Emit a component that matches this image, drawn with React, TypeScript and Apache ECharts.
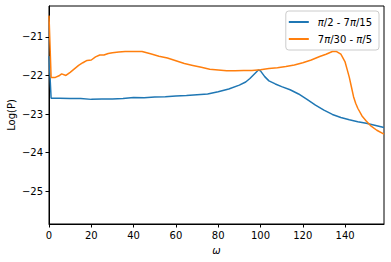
import React, { useEffect, useRef } from "react";
import * as echarts from "echarts";

const blueOmega = [0, 1, 5, 10, 15, 20, 25, 30, 35, 40, 45, 50, 55, 60, 65, 70, 75, 80, 85, 90, 93, 95, 97, 99, 100, 102, 104, 107, 110, 114, 118, 122, 126, 130, 134, 138, 142, 146, 150, 154, 158.4];
const blueValues = [-21.5, -22.59, -22.59, -22.6, -22.6, -22.62, -22.61, -22.61, -22.6, -22.57, -22.58, -22.56, -22.55, -22.53, -22.52, -22.5, -22.48, -22.42, -22.35, -22.25, -22.17, -22.08, -21.97, -21.86, -21.88, -22.03, -22.14, -22.22, -22.29, -22.37, -22.48, -22.62, -22.77, -22.9, -23.01, -23.09, -23.15, -23.2, -23.24, -23.29, -23.35];

const orangeOmega = [0, 1, 3, 5, 6, 8, 10, 12, 14, 16, 18, 20, 22, 24, 26, 28, 30, 33, 36, 40, 44, 48, 52, 56, 60, 64, 68, 72, 76, 80, 84, 88, 92, 96, 100, 104, 108, 112, 116, 120, 124, 128, 131, 134, 136, 138, 140, 141, 142, 143, 144, 145, 146, 148, 150, 152, 155, 158.4];
const orangeValues = [-20.45, -22.05, -22.05, -22.0, -21.96, -22.0, -21.92, -21.83, -21.74, -21.67, -21.61, -21.6, -21.52, -21.47, -21.47, -21.43, -21.41, -21.39, -21.38, -21.38, -21.38, -21.44, -21.5, -21.55, -21.62, -21.69, -21.74, -21.79, -21.84, -21.86, -21.88, -21.88, -21.87, -21.87, -21.85, -21.82, -21.8, -21.77, -21.73, -21.67, -21.6, -21.51, -21.45, -21.38, -21.38, -21.45, -21.65, -21.85, -22.05, -22.3, -22.55, -22.72, -22.85, -23.05, -23.18, -23.3, -23.42, -23.52];

const seriesNames = ["π/2 - 7π/15", "7π/30 - π/5"];
const legendLabels = ["{i|π}/2 - 7{i|π}/15", "7{i|π}/30 - {i|π}/5"];

const font = "DejaVu Sans";

export default function App() {
  const ref = useRef<HTMLDivElement>(null);
  useEffect(() => {
    if (!ref.current) return;
    const chart = echarts.init(ref.current, null, { renderer: "svg" });
    const axisCommon = {
      axisLine: { show: true, onZero: false, lineStyle: { color: "#000", width: 1 } },
      axisTick: { show: true, inside: false, length: 3.5, lineStyle: { color: "#000" } },
      splitLine: { show: false },
    };
    chart.setOption({
      animation: false,
      backgroundColor: "#fff",
      grid: {
        left: 49,
        top: 6,
        right: 7,
        bottom: 38,
        containLabel: false,
        outerBoundsMode: "none",
        show: true,
        borderColor: "#000",
        borderWidth: 1,
        backgroundColor: "transparent",
      },
      legend: {
        top: 11,
        right: 12,
        orient: "vertical",
        icon: "rect",
        itemWidth: 20,
        itemHeight: 2,
        itemGap: 5,
        padding: [5, 7, 5, 3],
        borderColor: "#ccc",
        borderWidth: 1,
        borderRadius: 3,
        backgroundColor: "rgba(255,255,255,0.8)",
        formatter: (name: string) => legendLabels[seriesNames.indexOf(name)],
        textStyle: {
          fontFamily: font,
          fontSize: 10,
          lineHeight: 12,
          color: "#000",
          padding: [0, 0, 0, 4],
          rich: { i: { fontStyle: "italic", fontFamily: font, fontSize: 10, color: "#000" } },
        },
      },
      xAxis: {
        type: "value",
        min: 0,
        max: 158.4,
        splitNumber: 8,
        name: "ω",
        nameLocation: "middle",
        nameGap: 21,
        nameMoveOverlap: false,
        nameTextStyle: { fontFamily: font, fontSize: 10, fontStyle: "italic", color: "#000" },
        ...axisCommon,
        axisLabel: { fontFamily: font, fontSize: 10, color: "#000", margin: 6, showMaxLabel: false },
      },
      yAxis: {
        type: "value",
        min: -25.85,
        max: -20.2,
        splitNumber: 5,
        name: "Log(P)",
        nameLocation: "middle",
        nameRotate: 90,
        nameGap: 33,
        nameMoveOverlap: false,
        nameTextStyle: { fontFamily: font, fontSize: 10, color: "#000" },
        ...axisCommon,
        axisLabel: {
          fontFamily: font,
          fontSize: 10,
          color: "#000",
          margin: 6,
          showMinLabel: false,
          showMaxLabel: false,
          formatter: (v: number) => String(v).replace("-", "\u2212"),
        },
      },
      series: [
        {
          name: seriesNames[0],
          type: "line",
          symbol: "none",
          data: blueOmega.map((x, i) => [x, blueValues[i]]),
          lineStyle: { color: "#1f77b4", width: 1.5 },
          itemStyle: { color: "#1f77b4" },
        },
        {
          name: seriesNames[1],
          type: "line",
          symbol: "none",
          data: orangeOmega.map((x, i) => [x, orangeValues[i]]),
          lineStyle: { color: "#ff7f0e", width: 1.5 },
          itemStyle: { color: "#ff7f0e" },
        },
      ],
    });
    return () => chart.dispose();
  }, []);
  return <div ref={ref} style={{ width: 391, height: 262, position: "absolute", left: 0, top: 0 }} />;
}
